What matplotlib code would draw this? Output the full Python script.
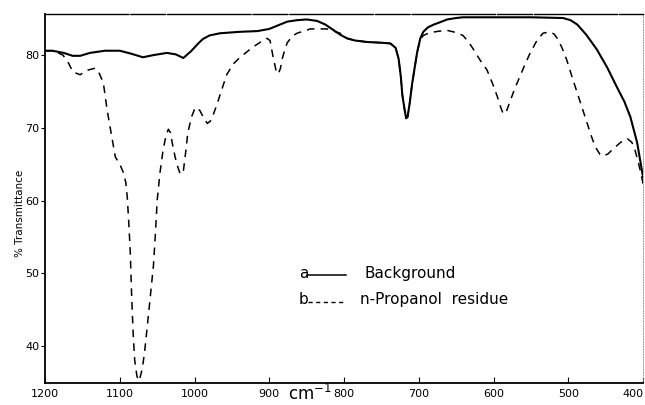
import numpy as np
import matplotlib.pyplot as plt

# wavenumber (cm-1) and % transmittance
bg_wn = [1200, 1190, 1175, 1163, 1153, 1140, 1120, 1100, 1085, 1069, 1055, 1037,
         1025, 1015, 1005, 995, 989, 980, 966, 940, 916, 900, 888, 876, 863,
         850, 836, 825, 815, 805, 796, 785, 769, 750, 738, 731, 727, 724, 722,
         719, 717, 715, 712, 709, 705, 702, 698, 694, 688, 680, 672, 662, 650,
         641, 600, 550, 507, 497, 488, 476, 462, 448, 435, 425, 417, 408, 400]
bg_t = [80.6, 80.6, 80.3, 79.9, 79.9, 80.3, 80.6, 80.6, 80.2, 79.7, 80.0, 80.3,
        80.1, 79.6, 80.5, 81.6, 82.2, 82.7, 83.0, 83.2, 83.3, 83.6, 84.1, 84.6, 84.8,
        84.9, 84.7, 84.2, 83.5, 82.8, 82.3, 82.0, 81.8, 81.7, 81.6, 81.0, 79.5, 77.0, 74.5,
        72.5, 71.3, 71.5, 73.5, 76.0, 78.6, 80.5, 82.3, 83.2, 83.8, 84.2, 84.5, 84.9, 85.1,
        85.2, 85.2, 85.2, 85.1, 84.8, 84.2, 82.8, 80.8, 78.3, 75.6, 73.6, 71.5, 68.0, 63.2]

pr_wn = [1200, 1189, 1176, 1168, 1163, 1153, 1144, 1133, 1128, 1122, 1117, 1111,
         1106, 1100, 1095, 1092, 1090, 1088, 1086, 1084, 1082, 1080, 1077, 1074,
         1070, 1067, 1064, 1060, 1055, 1052, 1050, 1046, 1042, 1038, 1035, 1032,
         1030, 1026, 1023, 1019, 1015, 1012, 1009, 1004, 999, 993, 988, 983, 979,
         975, 970, 966, 957, 948, 939, 922, 910, 903, 899, 895, 891, 888, 885,
         883, 879, 876, 869, 863, 845, 823, 805, 796, 785, 769, 750, 738, 731,
         727, 724, 722, 719, 717, 715, 712, 709, 705, 702, 698, 694, 685, 672,
         662, 650, 641, 634, 627, 618, 609, 601, 595, 590, 587, 583, 578, 572,
         565, 558, 551, 542, 534, 525, 519, 514, 508, 502, 495, 488, 481, 475,
         469, 464, 458, 454, 447, 440, 430, 421, 415, 411, 407, 403, 400]
pr_t = [80.6, 80.6, 80.0, 78.8, 77.7, 77.3, 77.9, 78.2, 77.6, 76.2, 72.5, 69.0,
        66.0, 65.0, 63.8, 62.5, 60.5, 57.0, 53.0, 46.5, 41.5, 38.0, 35.8, 35.2,
        36.8, 39.0, 41.9, 46.0, 51.0, 56.0, 60.0, 64.0, 67.0, 69.0, 69.8, 69.3,
        68.0, 66.0, 64.8, 63.6, 64.0, 66.5, 69.3, 71.5, 72.8, 72.4, 71.4, 70.6, 70.9,
        71.8, 73.2, 74.5, 77.3, 78.8, 79.7, 81.1, 81.9, 82.3, 82.0, 79.8, 77.9, 77.4, 78.2,
        79.4, 80.8, 81.7, 82.6, 83.0, 83.6, 83.6, 83.0, 82.3, 82.0, 81.8, 81.7, 81.6, 81.0,
        79.5, 77.0, 74.5, 72.5, 71.3, 71.5, 73.5, 76.0, 78.6, 80.5, 82.1, 82.7, 83.1, 83.3,
        83.4, 83.1, 82.7, 81.9, 80.8, 79.3, 78.0, 76.0, 74.3, 72.7, 71.9, 72.2, 73.6, 75.3,
        77.0, 78.7, 80.3, 82.0, 83.0, 83.2, 82.9, 82.2, 80.9, 79.3, 77.0, 74.8, 72.6, 70.7,
        68.8, 67.4, 66.4, 66.1, 66.4, 67.1, 68.0, 68.5, 68.0, 67.0, 65.5, 63.8, 62.3]

xticks = [1200, 1100, 1000, 900, 800, 700, 600, 500, 400]
yticks = [40, 50, 60, 70, 80]

fig = plt.figure(figsize=(6.45, 4.05), dpi=100)
ax = fig.add_axes([0.0698, 0.0543, 0.9272, 0.9111])

ax.plot(bg_wn, bg_t, color='black', lw=1.5, solid_joinstyle='round')
ax.plot(pr_wn, pr_t, color='black', lw=1.1, dashes=(5, 4))

ax.set_xlim(1200, 400)
ax.set_ylim(34.9, 85.65)
ax.set_xticks(xticks)
ax.set_yticks(yticks)
ax.tick_params(axis='x', direction='in', length=4, labelsize=8, pad=4)
ax.tick_params(axis='y', direction='out', length=3, labelsize=8, pad=1)
ax.get_xticklabels()[-1].set_horizontalalignment('right')

for s in ['left', 'bottom']:
    ax.spines[s].set_linewidth(1.3)
ax.spines['top'].set_linewidth(1.0)
ax.spines['top'].set_linestyle((0, (60, 1.5, 25, 1.5)))
ax.spines['right'].set_linewidth(0.7)
ax.spines['right'].set_color('0.6')
ax.spines['right'].set_linestyle(':')

ax.set_ylabel('% Transmittance', fontsize=7.5)
ax.yaxis.set_label_coords(-0.033, 0.46)
fig.text(0.48, 0.003, 'cm$^{-1}$', fontsize=12, ha='center', va='bottom')

# legend drawn as text beside a short line sample
fig.text(0.463, 0.325, 'a', fontsize=11, ha='left', va='center')
fig.text(0.463, 0.26, 'b', fontsize=11, ha='left', va='center')
fig.add_artist(plt.Line2D([0.478, 0.536], [0.32, 0.32], color='black', lw=1.1))
fig.add_artist(plt.Line2D([0.478, 0.536], [0.255, 0.255], color='black', lw=1.0, dashes=(3, 2.5)))
fig.text(0.565, 0.325, 'Background', fontsize=11, ha='left', va='center')
fig.text(0.558, 0.26, 'n-Propanol  residue', fontsize=11, ha='left', va='center')

fig.savefig('out.png', dpi=100)
